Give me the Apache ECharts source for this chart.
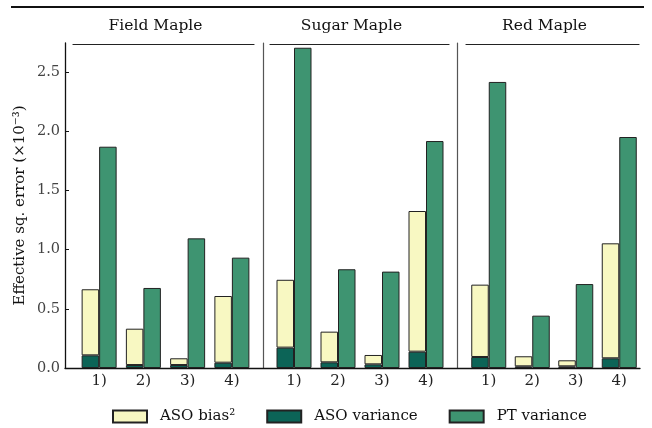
<!DOCTYPE html>
<html>
<head>
<meta charset="utf-8">
<script src="https://cdn.jsdelivr.net/npm/echarts@6/dist/echarts.min.js"></script>
<style>html,body{margin:0;padding:0;background:#fff}#c{width:652px;height:428px}</style>
</head>
<body>
<div id="c"></div>
<script>
const categories = ['1)', '2)', '3)', '4)'];
const panelTitles = ['Field Maple', 'Sugar Maple', 'Red Maple'];
const yTicks = [0.0, 0.5, 1.0, 1.5, 2.0, 2.5];

const fieldAsoVar  = [0.107, 0.025, 0.025, 0.045];
const fieldAsoBias = [0.558, 0.307, 0.057, 0.563];
const fieldPtVar   = [1.869, 0.676, 1.095, 0.932];

const sugarAsoVar  = [0.172, 0.048, 0.031, 0.138];
const sugarAsoBias = [0.573, 0.259, 0.079, 1.188];
const sugarPtVar   = [2.705, 0.834, 0.814, 1.917];

const redAsoVar    = [0.093, 0.014, 0.014, 0.082];
const redAsoBias   = [0.611, 0.085, 0.051, 0.971];
const redPtVar     = [2.416, 0.442, 0.709, 1.951];

const FONT = 'DejaVu Serif';
const C_BIAS = '#f8f8c2', C_VAR = '#0c6457', C_PT = '#3e9471';
const YMAX = 2.745;
const PLOT_TOP = 43, PLOT_H = 325;
const TICK_MAX = yTicks[yTicks.length - 1];
const tickTop = PLOT_TOP + PLOT_H * (1 - TICK_MAX / YMAX);

const panels = [
  {title: panelTitles[0], v: fieldAsoVar, b: fieldAsoBias, p: fieldPtVar, left: 77, width: 177, off: 12, tl: 73, tw: 181},
  {title: panelTitles[1], v: sugarAsoVar, b: sugarAsoBias, p: sugarPtVar, left: 272, width: 176, off: 9, tl: 270, tw: 179},
  {title: panelTitles[2], v: redAsoVar, b: redAsoBias, p: redPtVar, left: 467, width: 174, off: 10, tl: 466, tw: 173}
];

const grid = [{left: 65, top: PLOT_TOP, width: 575, height: PLOT_H}];
const xAxis = [{gridIndex: 0, type: 'value', min: 0, max: 1, axisLabel: {show: false}, axisTick: {show: false}, splitLine: {show: false}, axisLine: {show: true, lineStyle: {color: '#111', width: 1.3}}}];
const yAxis = [{gridIndex: 0, show: false, type: 'value', min: 0, max: YMAX}];
const series = [];
const border = {borderColor: '#222', borderWidth: 1};

panels.forEach((pn, i) => {
  const gi = i + 1;
  grid.push({left: pn.left, top: PLOT_TOP, width: pn.width, height: PLOT_H});
  xAxis.push({
    gridIndex: gi, type: 'category', data: categories, position: 'bottom',
    axisLine: {show: false}, axisTick: {show: false},
    axisLabel: {fontFamily: FONT, fontSize: 15, color: '#222', margin: 6}
  });
  const ya = {
    gridIndex: gi, type: 'value', min: 0, max: YMAX, offset: pn.off,
    splitLine: {show: false},
    axisLine: {show: true, lineStyle: {color: i === 0 ? '#111' : '#555', width: i === 0 ? 1.3 : 1.2}},
    axisTick: {show: false},
    axisLabel: {show: false}
  };
  if (i === 0) {
    ya.name = 'Effective sq. error (×10⁻³)';
    ya.nameLocation = 'middle';
    ya.nameGap = 37;
    ya.nameTextStyle = {fontFamily: FONT, fontSize: 15, color: '#111'};
  }
  yAxis.push(ya);
  const xi = i + 1;
  series.push({name: 'ASO variance', type: 'bar', stack: 'aso' + i, xAxisIndex: xi, yAxisIndex: gi,
    data: pn.v, barWidth: 17.5, barGap: '0%', itemStyle: Object.assign({color: C_VAR}, border)});
  series.push({name: 'ASO bias²', type: 'bar', stack: 'aso' + i, xAxisIndex: xi, yAxisIndex: gi,
    data: pn.b, barWidth: 17.5, barGap: '0%', itemStyle: Object.assign({color: C_BIAS}, border)});
  series.push({name: 'PT variance', type: 'bar', xAxisIndex: xi, yAxisIndex: gi,
    data: pn.p, barWidth: 17.5, barGap: '0%', itemStyle: Object.assign({color: C_PT}, border)});
});

// tick/label grid (0 .. 2.5) aligned with the plotting scale
grid.push({left: 65, top: tickTop, width: 10, height: PLOT_TOP + PLOT_H - tickTop});
xAxis.push({gridIndex: 4, type: 'value', show: false, min: 0, max: 1});
yAxis.push({
  gridIndex: 4, type: 'value', min: 0, max: TICK_MAX, interval: 0.5,
  splitLine: {show: false}, axisLine: {show: false},
  axisTick: {show: true, inside: true, length: 4, lineStyle: {color: '#111'}},
  axisLabel: {fontFamily: FONT, fontSize: 14.5, color: '#444', margin: 5, formatter: v => v.toFixed(1)}
});

// panel title grids (underline + title)
panels.forEach((pn, i) => {
  const gi = 5 + i;
  grid.push({left: pn.tl, top: 44, width: pn.tw, height: 10});
  xAxis.push({
    gridIndex: gi, type: 'value', min: 0, max: 1, position: 'top',
    axisLine: {show: true, onZero: false, lineStyle: {color: '#222', width: 1.2}}, axisTick: {show: false},
    axisLabel: {show: false}, splitLine: {show: false},
    name: pn.title, nameLocation: 'middle', nameGap: 10,
    nameTextStyle: {fontFamily: FONT, fontSize: 15.5, color: '#111', padding: [0, 16, 0, 0]}
  });
  yAxis.push({gridIndex: gi, type: 'value', show: false, min: 0, max: 1});
});

const chart = echarts.init(document.getElementById('c'), null, {renderer: 'canvas'});
chart.setOption({
  animation: false,
  backgroundColor: '#fff',
  grid, xAxis, yAxis, series,
  legend: {
    data: ['ASO bias²', 'ASO variance', 'PT variance'],
    left: 107, top: 404, itemWidth: 34, itemHeight: 12, itemGap: 31,
    icon: 'rect',
    textStyle: {fontFamily: FONT, fontSize: 15, color: '#111', padding: [0, 0, 0, 8]},
    selectedMode: false
  },
  graphic: [{type: 'line', shape: {x1: 11, y1: 7, x2: 644, y2: 7}, style: {stroke: '#111', lineWidth: 2}}]
});
</script>
</body>
</html>
